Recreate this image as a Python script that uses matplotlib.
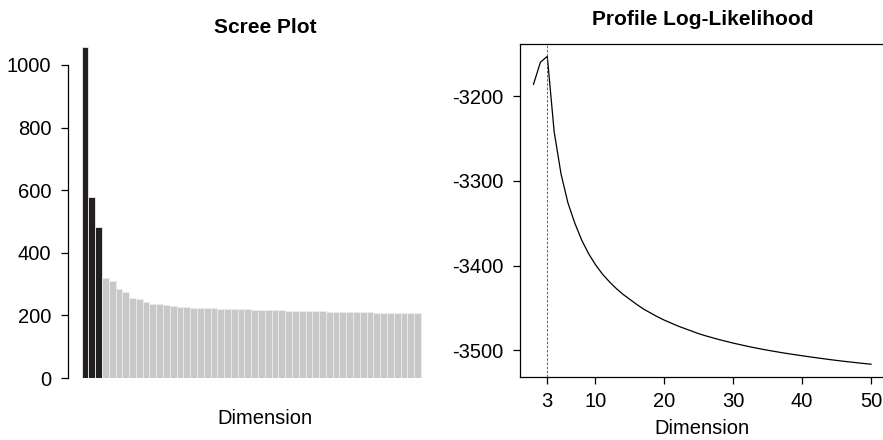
import numpy as np
import matplotlib.pyplot as plt

plt.rcParams['font.family'] = ['Liberation Sans', 'DejaVu Sans']
plt.rcParams['axes.unicode_minus'] = False

# scree plot eigenvalues (first three highlighted)
scree_values = [1057, 578, 482, 320, 310, 284, 275, 256, 252, 243,
                237, 235, 232, 230, 227, 227, 225, 225, 223, 223,
                222, 221, 220, 219, 219, 218, 217, 217, 216, 216,
                215, 215, 214, 214, 213, 213, 212, 212, 211, 211,
                211, 210, 210, 209, 209, 209, 208, 208, 208, 207]
n_selected = 3

# profile log-likelihood by dimension
dims = list(range(1, 51))
loglik = [-3186, -3160, -3153, -3242, -3292, -3326, -3350, -3370, -3386, -3399,
          -3410, -3419, -3427, -3434, -3440, -3446, -3451.5, -3456, -3460.5, -3464.5,
          -3468, -3471.5, -3474.5, -3477.5, -3480.5, -3483, -3485.3, -3487.5, -3489.6, -3491.6,
          -3493.4, -3495.2, -3496.9, -3498.5, -3500, -3501.4, -3502.8, -3504.1, -3505.3, -3506.5,
          -3507.7, -3508.8, -3509.9, -3511, -3512, -3513, -3513.9, -3514.8, -3515.7, -3516.5]
x_ticks = [3, 10, 20, 30, 40, 50]
y_ticks = [-3500, -3400, -3300, -3200]

fig = plt.figure(figsize=(8.83, 4.40), dpi=100)

# left: scree plot
ax1 = fig.add_axes([68 / 883, 62 / 440, 394 / 883, 334 / 440])
colors = ['#231f20' if i < n_selected else '#c8c8c8' for i in range(len(scree_values))]
ax1.bar(np.arange(len(scree_values)), scree_values, width=1, align='edge',
        color=colors, edgecolor='#ececec', linewidth=0.6)
ax1.set_xlim(-2, 56.05)
ax1.set_ylim(0, 1067)
for s in ['top', 'right', 'bottom']:
    ax1.spines[s].set_visible(False)
ax1.spines['left'].set_bounds(0, 1000)
ax1.spines['left'].set_linewidth(0.9)
ax1.set_yticks([0, 200, 400, 600, 800, 1000])
ax1.set_xticks([])
ax1.tick_params(axis='y', length=5, width=0.9, pad=7, labelsize=14.5)
ax1.set_title('Scree Plot', fontsize=15, fontweight='bold', pad=8)
ax1.set_xlabel('Dimension', fontsize=14.5, labelpad=22)

# right: profile log-likelihood (box runs just past the image edge)
ax2 = fig.add_axes([520 / 883, 63 / 440, 367 / 883, 333 / 440])
ax2.plot(dims, loglik, color='black', linewidth=0.9)
ax2.axvline(3, color='#444444', linewidth=0.6, linestyle=(0, (3, 2)))
ax2.set_xlim(-0.96, 52.32)
ax2.set_ylim(-3531.6, -3138.4)
ax2.set_xticks(x_ticks)
ax2.set_yticks(y_ticks)
for s in ax2.spines.values():
    s.set_linewidth(0.9)
ax2.tick_params(length=5, width=0.9, labelsize=14.5)
ax2.tick_params(axis='y', pad=7)
ax2.tick_params(axis='x', pad=6)
ax2.set_title('Profile Log-Likelihood', fontsize=15, fontweight='bold', pad=14, x=364.5 / 367 / 2)
ax2.set_xlabel('Dimension', fontsize=14.5)
ax2.xaxis.set_label_coords(364.5 / 367 / 2, -0.125)

fig.savefig('out.png', dpi=100)
